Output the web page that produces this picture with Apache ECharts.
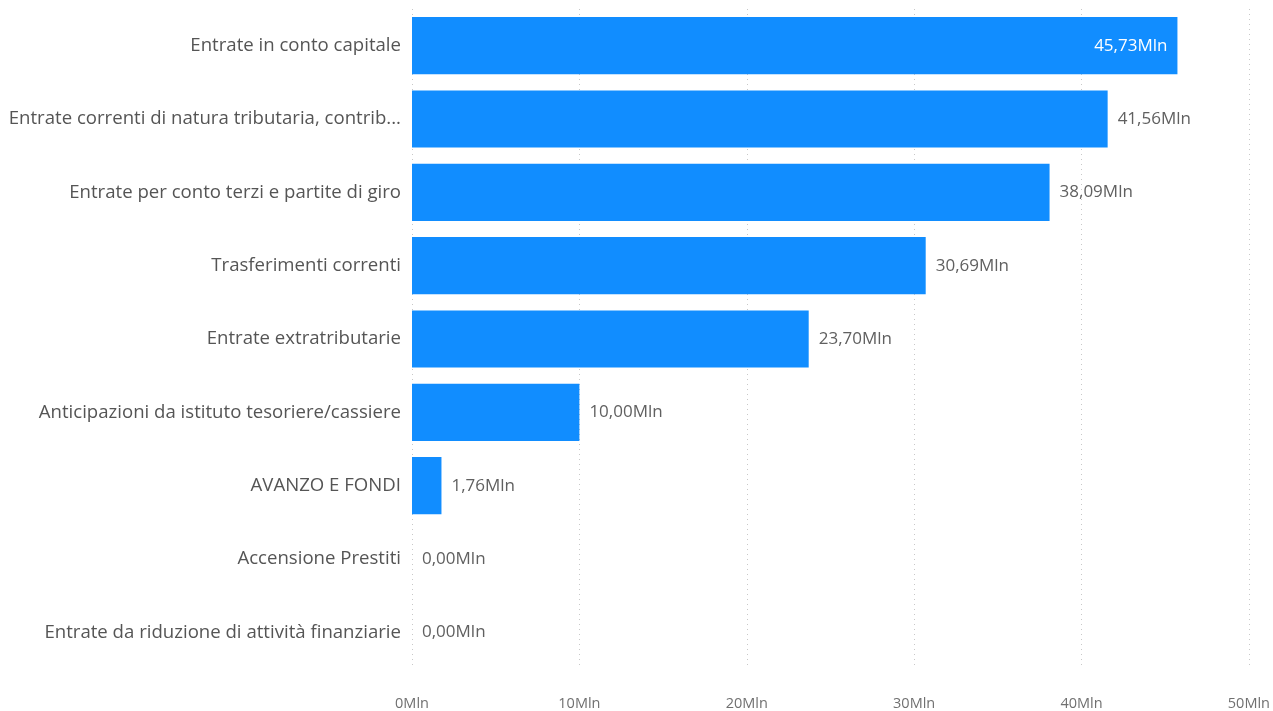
<!DOCTYPE html>
<html><head><meta charset="utf-8">
<script src="https://cdn.jsdelivr.net/npm/echarts@6/dist/echarts.min.js"></script>
<style>html,body{margin:0;padding:0;background:#fff}#c{width:1273px;height:711px}</style>
</head><body><div id="c"></div>
<script>
const categories = [
  "Entrate in conto capitale",
  "Entrate correnti di natura tributaria, contrib...",
  "Entrate per conto terzi e partite di giro",
  "Trasferimenti correnti",
  "Entrate extratributarie",
  "Anticipazioni da istituto tesoriere/cassiere",
  "AVANZO E FONDI",
  "Accensione Prestiti",
  "Entrate da riduzione di attività finanziarie"
];
const values = [45.73, 41.56, 38.09, 30.69, 23.70, 10.00, 1.76, 0.00, 0.00];
const axisTicks = [0, 10, 20, 30, 40, 50];

const fmt = v => v.toFixed(2).replace('.', ',') + 'Mln';
const font = '"Open Sans", "Noto Sans", sans-serif';
const chart = echarts.init(document.getElementById('c'), null, {renderer: 'canvas'});
chart.setOption({
  animation: false,
  grid: {left: 412, right: 21, top: 9, bottom: 41, containLabel: false},
  xAxis: {
    type: 'value', min: axisTicks[0], max: axisTicks[axisTicks.length - 1], interval: 10,
    axisLine: {show: false}, axisTick: {show: false},
    splitLine: {show: true, lineStyle: {type: [1, 4], color: '#c8c8c8', width: 1}},
    axisLabel: {formatter: v => v + 'Mln', color: '#707070', fontSize: 14.5, fontFamily: font, margin: 27}
  },
  yAxis: {
    type: 'category', data: categories, inverse: true,
    axisLine: {show: false}, axisTick: {show: false},
    axisLabel: {color: '#555', fontSize: 18.6, fontFamily: font, margin: 11}
  },
  series: [{
    type: 'bar', data: values.map((v, i) => ({
      value: v,
      label: i === 0 ? {position: 'insideRight', color: '#fff', distance: 10} : {position: 'right', color: '#606060', distance: 10}
    })),
    barCategoryGap: '22%',
    itemStyle: {color: '#118DFF'},
    label: {show: true, formatter: p => fmt(p.value), fontSize: 17, fontFamily: font}
  }]
});
</script></body></html>
